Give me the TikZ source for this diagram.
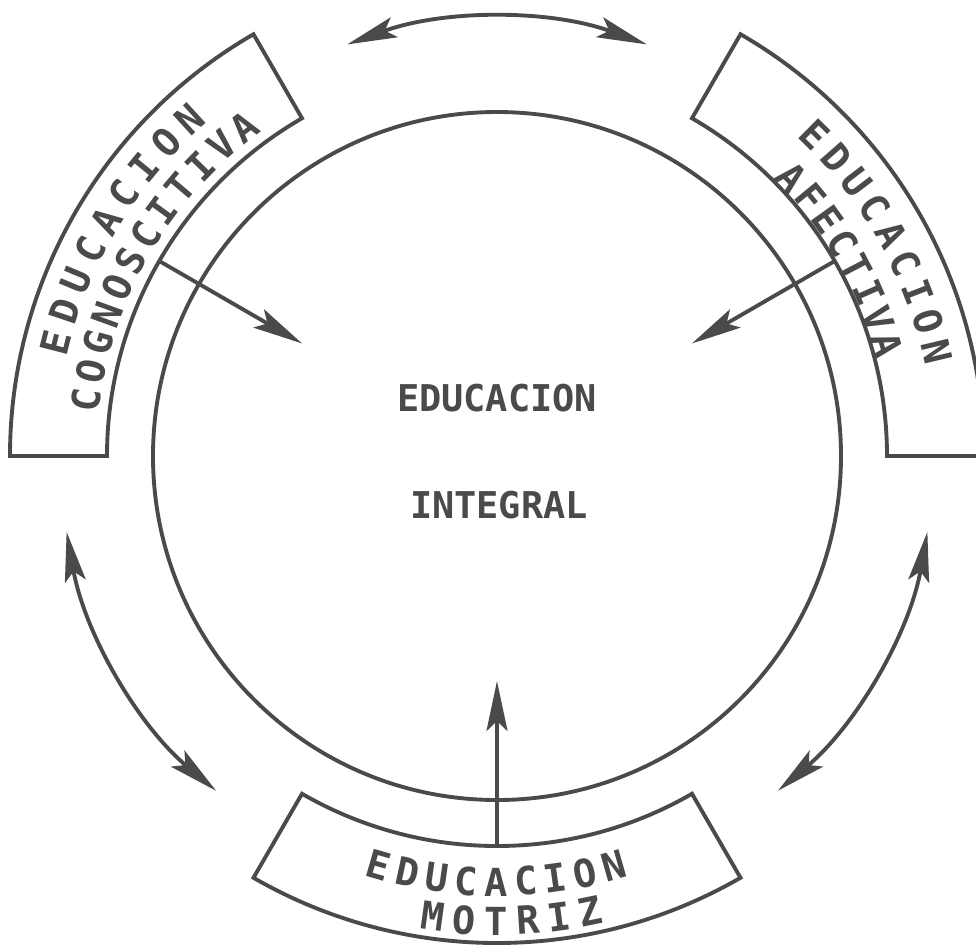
\documentclass[tikz,border=0pt]{standalone}
\usepackage{fontspec}
\newfontfamily\plotter{DejaVu Sans Mono}
\usetikzlibrary{arrows.meta}
\definecolor{trazo}{HTML}{4A4A4A}

\begin{document}
\begin{tikzpicture}[line width=1.1pt, color=trazo,
	letra/.style={font=\plotter\bfseries\fontsize{11}{12}\selectfont, inner sep=0pt},
	titulo/.style={font=\plotter\bfseries\fontsize{10.5}{12}\selectfont, inner sep=0pt},
	flecha/.style={-{Stealth[length=5mm,width=2.1mm,inset=1mm]}},
	doble/.style={{Stealth[length=5mm,width=2.1mm,inset=1mm]}-{Stealth[length=5mm,width=2.1mm,inset=1mm]}}]

	\useasboundingbox (-4.97,-4.90) rectangle (4.79,4.56);

	% circulo central
	\draw (0,0) circle [radius=3.44cm];
	\node (edu) at (0.0, 0.58) [titulo] {EDUCACION};
	\node (int) at (0.02,-0.49) [titulo] {INTEGRAL};

	% bandas
	\draw (120:3.9) arc [start angle=120, end angle=180, radius=3.9cm]
	        -- (180:4.87) arc [start angle=180, end angle=120, radius=4.87cm] -- cycle;
	\draw (0:3.9) arc [start angle=0, end angle=60, radius=3.9cm]
	        -- (60:4.87) arc [start angle=60, end angle=0, radius=4.87cm] -- cycle;
	\draw (240:3.9) arc [start angle=240, end angle=300, radius=3.9cm]
	        -- (300:4.87) arc [start angle=300, end angle=240, radius=4.87cm] -- cycle;

	% textos de las bandas
	\foreach \ch [count=\i from 0] in {E,D,U,C,A,C,I,O,N}
		\node (cogA-\i) [letra, rotate={165.6-4.15*\i-90}] at ({165.6-4.15*\i}:4.56) {\ch};
	\foreach \ch [count=\i from 0] in {C,O,G,N,O,S,C,I,T,I,V,A}
		\node (cogB-\i) [letra, rotate={172.3-4.07*\i-90}] at ({172.3-4.07*\i}:4.15) {\ch};

	\foreach \ch [count=\i from 0] in {E,D,U,C,A,C,I,O,N}
		\node (afeA-\i) [letra, rotate={45.3-4.0*\i-90}] at ({45.3-4.0*\i}:4.52) {\ch};
	\foreach \ch [count=\i from 0] in {A,F,E,C,T,I,V,A}
		\node (afeB-\i) [letra, rotate={43.4-3.94*\i-90}] at ({43.4-3.94*\i}:4.06) {\ch};

	\foreach \ch [count=\i from 0] in {E,D,U,C,A,C,I,O,N}
		\node (motA-\i) [letra, rotate={253.9+4.0*\i+90}] at ({253.9+4.0*\i}:4.26) {\ch};
	\foreach \ch [count=\i from 0] in {M,O,T,R,I,Z}
		\node (motB-\i) [letra, rotate={262.1+3.9*\i+90}] at ({262.1+3.9*\i}:4.65) {\ch};

	% flechas hacia el centro
	\coordinate (cog-out) at (150:3.9);
	\coordinate (cog-in)  at (150:2.25);
	\coordinate (afe-out) at (30:3.9);
	\coordinate (afe-in)  at (30:2.25);
	\coordinate (mot-out) at (270:3.9);
	\coordinate (mot-in)  at (270:2.25);
	\draw[flecha] (cog-out) -- (cog-in);
	\draw[flecha] (afe-out) -- (afe-in);
	\draw[flecha] (mot-out) -- (mot-in);

	% flechas dobles entre bandas
	\coordinate (top-a) at (110:4.38);
	\coordinate (izq-a) at (190:4.37);
	\coordinate (der-a) at (350:4.37);
	\draw[doble] (top-a) arc [start angle=110, end angle=70, radius=4.38cm];
	\draw[doble] (izq-a) arc [start angle=190, end angle=230, radius=4.37cm];
	\draw[doble] (der-a) arc [start angle=350, end angle=310, radius=4.37cm];
\end{tikzpicture}
\end{document}
